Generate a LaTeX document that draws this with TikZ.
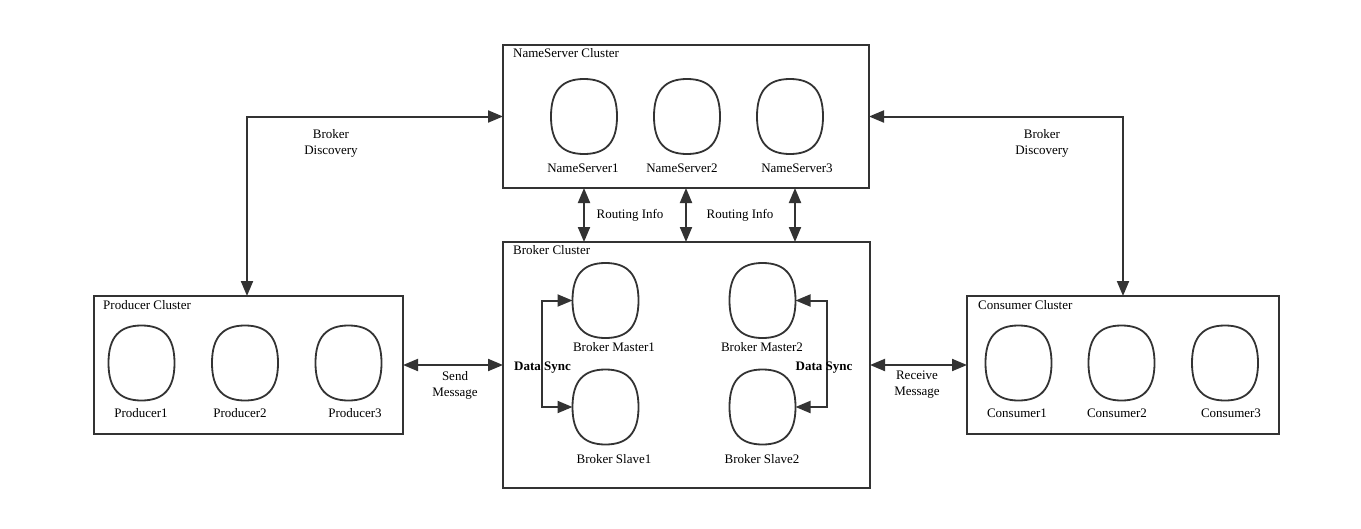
\documentclass[tikz,border=0pt]{standalone}
\usepackage{fontspec}
\setmainfont{Liberation Serif}
\usetikzlibrary{arrows.meta}
\definecolor{ln}{HTML}{333333}
\tikzset{
  box/.style={draw=ln, line width=2pt, rectangle, inner sep=0pt, outer sep=0pt},
  blobnode/.style={draw=none, inner sep=0pt, outer sep=0pt, minimum width=66pt, minimum height=75pt},
  blobline/.style={draw=ln, line width=1.8pt},
  dbl/.style={draw=ln, line width=2pt, {Triangle[length=15pt,width=12pt]}-{Triangle[length=15pt,width=12pt]}},
  lbl/.style={font=\fontsize{13}{15}\selectfont, inner sep=0pt, text=black},
  ttl/.style={font=\fontsize{13}{15}\selectfont, inner sep=0pt, anchor=west, text=black},
  two/.style={font=\fontsize{13}{16}\selectfont, inner sep=0pt, align=center, text=black},
  bold/.style={font=\fontsize{13}{15}\selectfont\bfseries, inner sep=0pt, text=black}
}
\newcommand\mkblob[3]{%
  \node[blobnode] (#1) at (#2,#3) {};
  \draw[blobline] (#1.north) .. controls +(22,0) and +(0,-26) .. (#1.east)
    .. controls +(0,26) and +(22,0) .. (#1.south)
    .. controls +(-22,0) and +(0,26) .. (#1.west)
    .. controls +(0,-26) and +(-22,0) .. (#1.north) -- cycle;}
\begin{document}
\begin{tikzpicture}[x=1pt,y=-1pt]
\useasboundingbox[fill=white] (0,0) rectangle (1361,528);
% cluster boxes
\node[box, minimum width=366pt, minimum height=143pt] (ns) at (686,116.5) {};
\node[box, minimum width=367pt, minimum height=246pt] (br) at (686.5,365) {};
\node[box, minimum width=309pt, minimum height=138pt] (pc) at (248.5,365) {};
\node[box, minimum width=312pt, minimum height=138pt] (cc) at (1123,365) {};
% titles
\node[ttl] (nst) at (513,53) {NameServer Cluster};
\node[ttl] (brt) at (513,250) {Broker Cluster};
\node[ttl] (pct) at (103,305) {Producer Cluster};
\node[ttl] (cct) at (978,305) {Consumer Cluster};
% name servers
\mkblob{ns1}{584}{116.5}
\mkblob{ns2}{687}{116.5}
\mkblob{ns3}{790}{116.5}
\node[lbl] (ns1l) at (583,168) {NameServer1};
\node[lbl] (ns2l) at (682,168) {NameServer2};
\node[lbl] (ns3l) at (797,168) {NameServer3};
% brokers
\mkblob{bm1}{605.5}{300.5}
\mkblob{bm2}{762.5}{300.5}
\mkblob{bs1}{605.5}{407}
\mkblob{bs2}{762.5}{407}
\node[lbl] (bm1l) at (614,347) {Broker Master1};
\node[lbl] (bm2l) at (762,347) {Broker Master2};
\node[lbl] (bs1l) at (614,459) {Broker Slave1};
\node[lbl] (bs2l) at (762,459) {Broker Slave2};
% producers
\mkblob{p1}{141.5}{363}
\mkblob{p2}{245}{363}
\mkblob{p3}{348.5}{363}
\node[lbl] (p1l) at (141,413) {Producer1};
\node[lbl] (p2l) at (240,413) {Producer2};
\node[lbl] (p3l) at (355,413) {Producer3};
% consumers
\mkblob{c1}{1018.5}{363}
\mkblob{c2}{1121.5}{363}
\mkblob{c3}{1225}{363}
\node[lbl] (c1l) at (1017,413) {Consumer1};
\node[lbl] (c2l) at (1117,413) {Consumer2};
\node[lbl] (c3l) at (1231,413) {Consumer3};
% routing info
\coordinate (r1) at (584,0);
\coordinate (r2) at (686,0);
\coordinate (r3) at (795,0);
\draw[dbl] (ns.south -| r1) -- (br.north -| r1);
\draw[dbl] (ns.south -| r2) -- (br.north -| r2);
\draw[dbl] (ns.south -| r3) -- (br.north -| r3);
\node[lbl] (ri1) at (630,215) {Routing Info};
\node[lbl] (ri2) at (740,215) {Routing Info};
% send / receive
\draw[dbl] (pc.east) -- (br.west);
\node[two] (sm) at (455,385) {Send\\Message};
\draw[dbl] (br.east) -- (cc.west);
\node[two] (rm) at (917,385) {Receive\\Message};
% broker discovery
\coordinate (dl) at (247,116.5);
\draw[dbl] (ns.west) -- (dl) -- (dl |- pc.north);
\node[two] (bdl) at (331,143) {Broker\\Discovery};
\draw[dbl] (ns.east) -| (cc.north);
\node[two] (bdr) at (1042,143) {Broker\\Discovery};
% data sync
\draw[dbl] (bm1.west) -- ++(-31,0) |- (bs1.west);
\draw[dbl] (bm2.east) -- ++(31,0) |- (bs2.east);
\node[bold] (ds1) at (542.5,368) {Data Sync};
\node[bold] (ds2) at (824,368) {Data Sync};
\end{tikzpicture}
\end{document}
